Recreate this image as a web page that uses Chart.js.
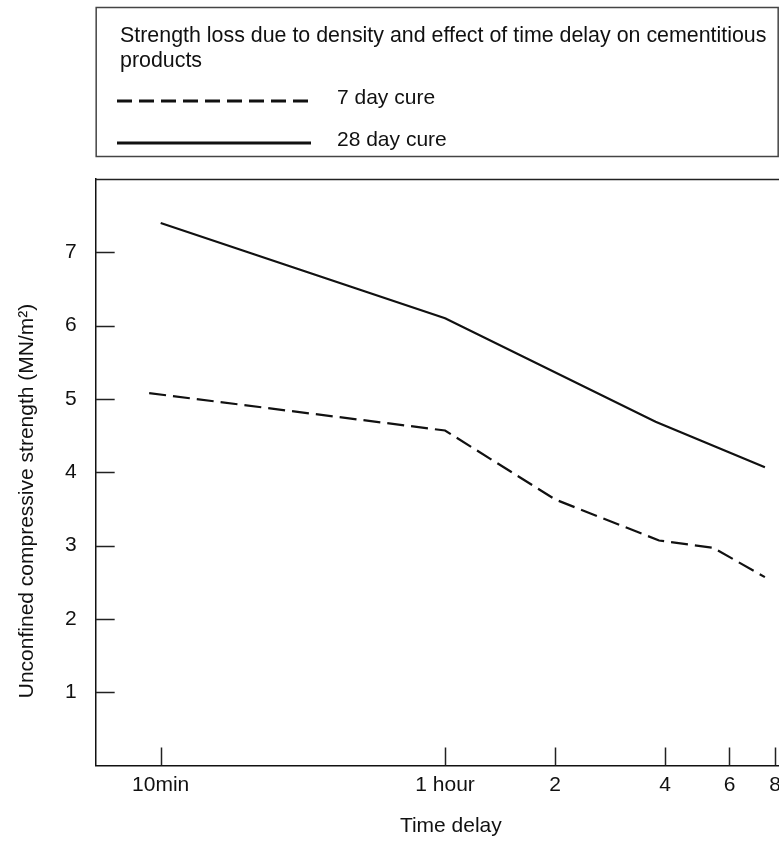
<!DOCTYPE html>
<html>
<head>
<meta charset="utf-8">
<script src="https://cdn.jsdelivr.net/npm/chart.js@4.4.1/dist/chart.umd.min.js"></script>
<style>
  html, body { margin: 0; padding: 0; background: #fff; overflow: hidden; }
</style>
</head>
<body>
<canvas id="myChart" width="812" height="847"></canvas>
<script>
// values (time in minutes)
const chartTitle = ['Strength loss due to density and effect of time delay on cementitious', 'products'];
const yTitle = 'Unconfined compressive strength (MN/m²)';
const timeTicks = [10, 60, 120, 240, 360, 480];
const timeLabels = ['10min', '1 hour', '2', '4', '6', '8'];
const cure7Minutes = [9.3, 60, 120, 231, 325, 450];
const cure7 = [5.08, 4.57, 3.63, 3.07, 2.97, 2.57];
const cure28Minutes = [10, 60, 226, 450];
const cure28 = [7.40, 6.10, 4.69, 4.07];
const strengthTicks = [1, 2, 3, 4, 5, 6, 7];

const FONT = "'Liberation Sans', Arial, sans-serif";
Chart.defaults.font.family = FONT;
Chart.defaults.font.size = 21;
Chart.defaults.color = '#111';

const toPoints = (xs, ys) => ys.map((v, i) => ({x: xs[i], y: v}));

const data = {
    datasets: [{
        label: '7 day cure',
        data: toPoints(cure7Minutes, cure7),
        borderColor: '#111',
        borderWidth: 2.2,
        borderDash: [17, 7],
        pointRadius: 0,
        fill: false
    }, {
        label: '28 day cure',
        data: toPoints(cure28Minutes, cure28),
        borderColor: '#111',
        borderWidth: 2.2,
        pointRadius: 0,
        fill: false
    }]
};

// inner tick marks, top border, y title and the boxed legend
const frame = {
    id: 'frame',
    afterDraw(chart) {
        const {ctx, chartArea: a, scales: {x, y}} = chart;
        ctx.save();
        ctx.strokeStyle = '#222';
        ctx.lineWidth = 1.5;
        ctx.beginPath();
        ctx.moveTo(a.left, a.top + 0.5);
        ctx.lineTo(a.right, a.top + 0.5);
        strengthTicks.forEach(v => {
            const py = Math.round(y.getPixelForValue(v)) + 0.5;
            ctx.moveTo(a.left, py);
            ctx.lineTo(a.left + 19, py);
        });
        timeTicks.forEach(v => {
            const px = Math.round(x.getPixelForValue(v)) + 0.5;
            ctx.moveTo(px, a.bottom);
            ctx.lineTo(px, a.bottom - 18);
        });
        ctx.stroke();

        // y axis title, sits a little below the middle of the axis
        ctx.fillStyle = '#111';
        ctx.font = '21px ' + FONT;
        ctx.textAlign = 'center';
        ctx.textBaseline = 'middle';
        ctx.save();
        ctx.translate(27, 501);
        ctx.rotate(-Math.PI / 2);
        ctx.fillText(yTitle, 0, 0);
        ctx.restore();

        // legend box
        ctx.textAlign = 'left';
        ctx.strokeStyle = '#444';
        ctx.lineWidth = 1.5;
        ctx.strokeRect(a.left + 0.5, 7.5, 682, 149);
        ctx.font = '21.4px ' + FONT;
        ctx.fillText(chartTitle[0], 120, 36);
        ctx.fillText(chartTitle[1], 120, 61);
        ctx.font = '21px ' + FONT;
        const rows = [101, 143];
        chart.data.datasets.forEach((ds, i) => {
            ctx.beginPath();
            ctx.lineWidth = 3;
            ctx.strokeStyle = '#111';
            ctx.setLineDash(ds.borderDash ? [15, 7] : []);
            ctx.moveTo(117, rows[i]);
            ctx.lineTo(311, rows[i]);
            ctx.stroke();
            ctx.setLineDash([]);
            ctx.fillText(ds.label, 337, rows[i] - 3);
        });
        ctx.restore();
    }
};

const config = {
    type: 'line',
    data: data,
    options: {
        responsive: false,
        animation: false,
        layout: { padding: { top: 179, left: 46, right: 6, bottom: 0 } },
        plugins: { legend: { display: false }, tooltip: { enabled: false } },
        scales: {
            x: {
                type: 'logarithmic',
                min: 6.64,
                max: 583,
                afterBuildTicks: (scale) => { scale.ticks = timeTicks.map(v => ({value: v})); },
                ticks: {
                    autoSkip: false,
                    maxRotation: 0,
                    padding: 7,
                    callback: (v, i) => timeLabels[i]
                },
                grid: { display: false, drawTicks: false },
                border: { color: '#111', width: 1.5 },
                title: { display: true, text: 'Time delay', padding: { top: 9, bottom: 8 } }
            },
            y: {
                min: 0,
                max: 8,
                afterBuildTicks: (scale) => { scale.ticks = strengthTicks.map(v => ({value: v})); },
                ticks: { padding: 19 },
                grid: { display: false, drawTicks: false },
                border: { color: '#111', width: 1.5 }
            }
        }
    },
    plugins: [frame]
};

const myChart = new Chart(document.getElementById('myChart'), config);
</script>
</body>
</html>
